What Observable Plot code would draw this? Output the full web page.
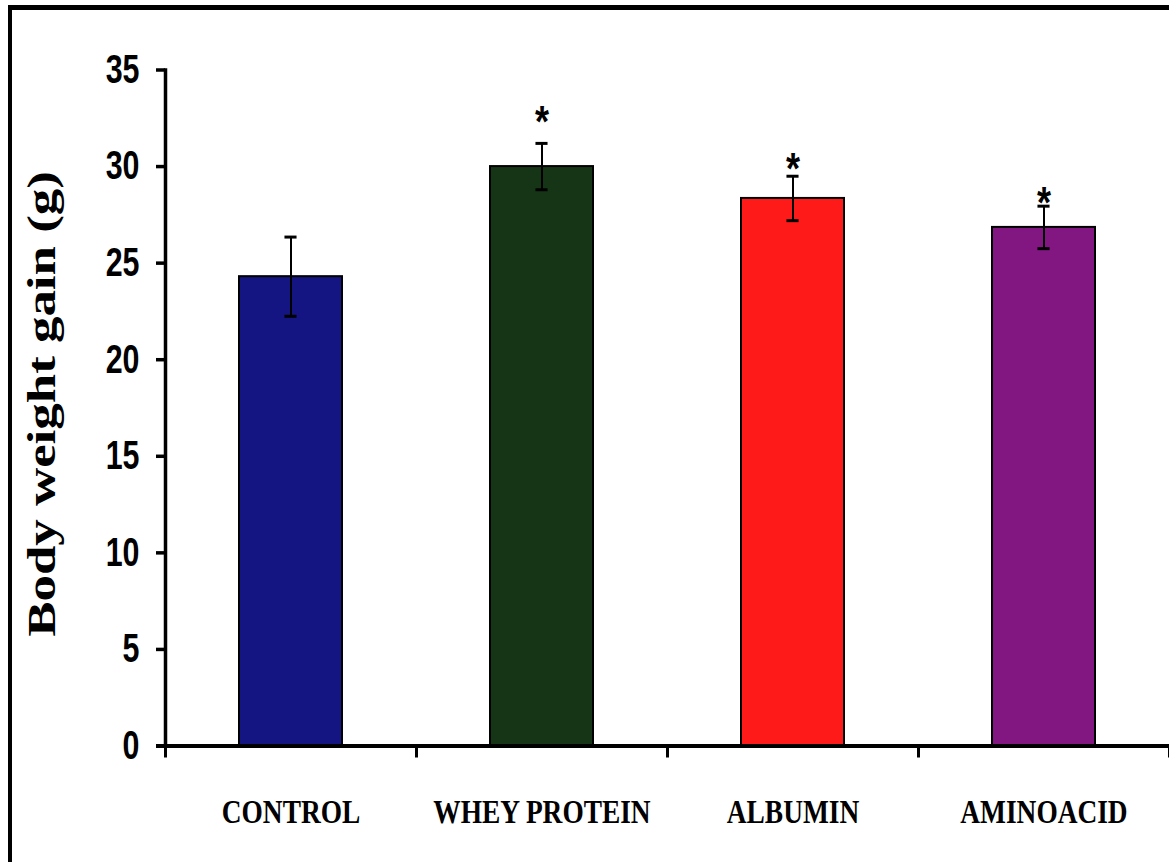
<!DOCTYPE html>
<html>
<head>
<meta charset="utf-8">
<script src="https://cdn.jsdelivr.net/npm/d3@7"></script>
<script src="https://cdn.jsdelivr.net/npm/@observablehq/plot@0.6"></script>
<style>
  html, body { margin: 0; padding: 0; background: #fff; }
  #figure { position: relative; width: 1169px; height: 862px; overflow: hidden; background: #fff; }
  #figure svg { position: absolute; left: 0; top: 0; }
  #border { position: absolute; left: 8px; top: 5px; width: 1400px; height: 1000px;
            border-top: 5px solid #000; border-left: 4px solid #000; pointer-events: none; }
</style>
</head>
<body>
<div id="figure"><div id="border"></div></div>
<script>
// Body weight gain per diet group (mean ± SE), * = significant vs control
const groups = ["CONTROL", "WHEY PROTEIN", "ALBUMIN", "AMINOACID"];
const means = [24.3, 30.0, 28.35, 26.85];
const errors = [2.05, 1.2, 1.15, 1.1];
const significant = [false, true, true, true];
const barColors = ["#141482", "#163516", "#ff1a1a", "#821782"];
const yTicks = [0, 5, 10, 15, 20, 25, 30, 35];
const yTitle = "Body weight gain (g)";

const data = groups.map((g, i) => ({group: g, mean: means[i], err: errors[i], star: significant[i]}));

const W = 1169, H = 862;
const mL = 165, mR = 0, mT = 69.5, mB = 116.5;
const step = (W - mL - mR) / groups.length;
const bandFrac = 0.41;
const capHalf = 6;
const capInset = (step * bandFrac) / 2 - capHalf;

// extra lift of each asterisk above its error bar (px)
const starLift = {"WHEY PROTEIN": -20.5, "ALBUMIN": -6.5, "AMINOACID": -2.5};

const starMarks = data.filter(d => d.star).map(d =>
  Plot.text([d], {
    x: "group", y: v => v.mean + v.err, text: () => "*",
    dy: starLift[d.group], fontSize: 44, fontWeight: "bold",
    fontFamily: "Liberation Sans, Arial, sans-serif", fill: "#000",
    ariaLabel: () => "significance"
  })
);

const chart = Plot.plot({
  width: W, height: H,
  marginLeft: mL, marginRight: mR, marginTop: mT, marginBottom: mB,
  style: {background: "transparent", overflow: "visible"},
  x: {domain: groups, paddingInner: 1 - bandFrac, paddingOuter: (1 - bandFrac) / 2, label: null},
  y: {domain: [0, 35], label: null},
  color: {domain: groups, range: barColors},
  marks: [
    Plot.barY(data, {x: "group", y: "mean", fill: "group", stroke: "#000", strokeWidth: 2}),
    Plot.ruleX(data, {x: "group", y1: d => d.mean - d.err, y2: d => d.mean + d.err, stroke: "#000", strokeWidth: 2}),
    Plot.tickY(data, {x: "group", y: d => d.mean + d.err, stroke: "#000", strokeWidth: 3, insetLeft: capInset, insetRight: capInset}),
    Plot.tickY(data, {x: "group", y: d => d.mean - d.err, stroke: "#000", strokeWidth: 3, insetLeft: capInset, insetRight: capInset}),
    Plot.frame({anchor: "left", stroke: "#000", strokeWidth: 3.5}),
    Plot.ruleY([0], {stroke: "#000", strokeWidth: 4, insetLeft: -9}),
    // category boundary ticks under the x axis
    Plot.ruleX(groups, {x: d => d, y1: 0, y2: 0, dx: -step / 2, insetBottom: -12, stroke: "#000", strokeWidth: 3}),
    Plot.ruleX([groups[groups.length - 1]], {x: d => d, y1: 0, y2: 0, dx: step / 2, insetBottom: -12, stroke: "#000", strokeWidth: 3}),
    Plot.axisY({
      ticks: yTicks, tickSize: 9, tickPadding: 17, tickFormat: d => String(d),
      fontSize: 40, fontWeight: "bold", fontFamily: "Liberation Sans, Arial, sans-serif",
      stroke: "#000", strokeWidth: 3.5, fill: "#000", label: null
    }),
    Plot.axisX({
      tickSize: 0, tickPadding: 54, fontSize: 33, fontWeight: "bold",
      fontFamily: "Liberation Serif, Times New Roman, serif", fill: "#000", label: null
    }),
    ...starMarks,
    Plot.text([yTitle], {
      text: d => d, frameAnchor: "left", textAnchor: "middle", dx: -124, dy: -4, rotate: -90,
      fontSize: 41, fontWeight: "bold", fontFamily: "Liberation Serif, Times New Roman, serif",
      fill: "#000", ariaLabel: () => "y title"
    })
  ]
});

// reshape the type, keeping each label's anchor fixed
function reshape(selection, sx, sy) {
  selection.each(function () {
    const t = this.getAttribute("transform") || "";
    this.setAttribute("transform", `${t} scale(${sx},${sy})`);
  });
}
const svg = d3.select(chart);
const pick = (label) => svg.selectAll(`g[aria-label="${label}"] text, text[aria-label="${label}"]`);
reshape(pick("y-axis tick label"), 0.76, 1);
reshape(pick("x-axis tick label"), 0.83, 1);
reshape(pick("significance"), 0.82, 1);
// rotated title: drawn long along its run
reshape(pick("y title"), 1.29, 1);

document.getElementById("figure").prepend(chart);
</script>
</body>
</html>
